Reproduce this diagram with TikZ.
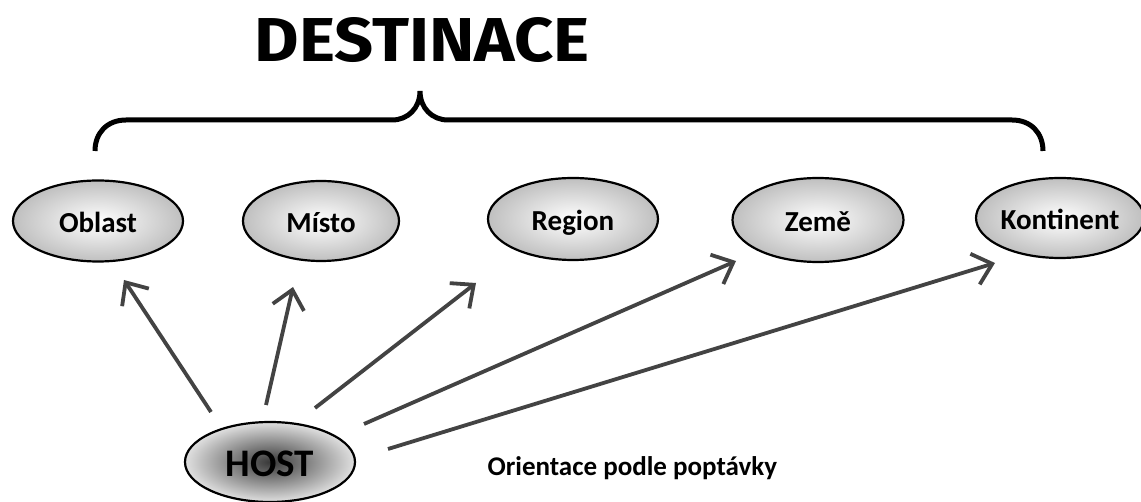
\documentclass[tikz,border=0pt]{standalone}
\usepackage{fontspec}
\usepackage{graphicx}
\setmainfont{Carlito}
\newfontfamily\titlefont{Fira Sans}
\usetikzlibrary{shapes.geometric,arrows.meta}
\definecolor{arrowgray}{HTML}{434343}
\tikzset{
  dest/.style={ellipse, draw=black, line width=2.2pt, inner sep=0pt,
    shading=radial, inner color=white, outer color=black!25,
    text height=24pt, text depth=0pt,
    font=\fontsize{29}{34}\selectfont\bfseries},
  hostnode/.style={ellipse, draw=black, line width=2.2pt, inner sep=0pt,
    shading=radial, inner color=black!78, outer color=black!12,
    text height=30pt, text depth=0pt,
    font=\fontsize{39}{44}\selectfont\bfseries},
  link/.style={draw=arrowgray, line width=3.8pt,
    -{Straight Barb[length=18pt,width=32pt,line width=3.8pt]}},
  brace/.style={draw=black, line width=5pt, line cap=butt}
}
\begin{document}
\begin{tikzpicture}[x=1pt,y=-1pt]
\useasboundingbox (0,0) rectangle (1141,502);

% heading
\node (title) at (422,40) {\resizebox{335pt}{44pt}{\titlefont\bfseries DESTINACE}};

% curly brace over the destination levels
\draw[brace] (95,151) .. controls (95,133) and (107,120) .. (126,120)
  -- (392,120) .. controls (408,120) and (420,108) .. (420,91)
  .. controls (420,108) and (432,120) .. (448,120)
  -- (1012,120) .. controls (1031,120) and (1043,133) .. (1043,151);

% destination levels
\node[dest, minimum width=170pt, minimum height=81pt] (oblast) at (98,221) {Oblast};
\node[dest, minimum width=156pt, minimum height=80pt] (misto) at (321,221) {Místo};
\node[dest, minimum width=170pt, minimum height=82pt] (region) at (573,219) {Region};
\node[dest, minimum width=171pt, minimum height=84pt] (zeme) at (818,220) {Země};
\node[dest, minimum width=158pt, minimum height=80pt] (kontinent) at (1060,218) {Kontinent};

% starting point
\node[hostnode, minimum width=170pt, minimum height=80pt] (host) at (270,462) {HOST};

% arrow end points around the nodes
\coordinate (h1) at (211,412);
\coordinate (h2) at (266,405);
\coordinate (h3) at (315,408);
\coordinate (h4) at (364,424);
\coordinate (h5) at (388,449);
\coordinate (t1) at (124,280);
\coordinate (t2) at (293,287);
\coordinate (t3) at (476,283);
\coordinate (t4) at (736,261);
\coordinate (t5) at (995,263);

\draw[link] (h1) -- (t1);
\draw[link] (h2) -- (t2);
\draw[link] (h3) -- (t3);
\draw[link] (h4) -- (t4);
\draw[link] (h5) -- (t5);

\node[font=\fontsize{27}{32}\selectfont\bfseries, anchor=west] (note) at (484,468) {Orientace podle poptávky};
\end{tikzpicture}
\end{document}
